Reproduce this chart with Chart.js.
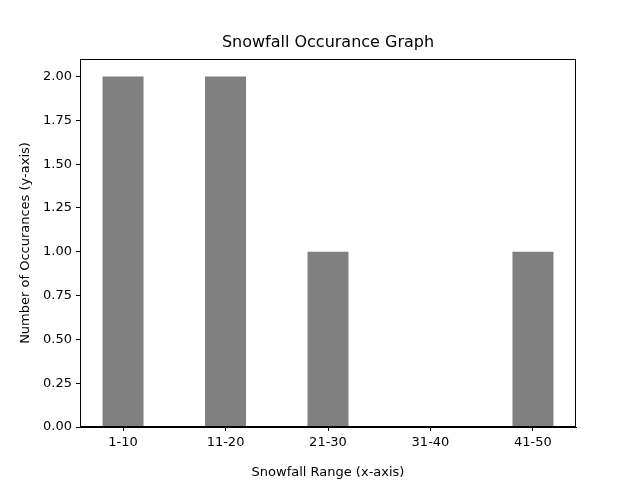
<!DOCTYPE html>
<html lang="en">
<head>
<meta charset="UTF-8">
<title>Snowfall Occurance Graph</title>
<script src="https://cdn.jsdelivr.net/npm/chart.js"></script>
<style>
  body { margin: 0; background: #fff; }
  #wrap { width: 640px; height: 480px; }
</style>
</head>
<body>
<div id="wrap"><canvas id="snowChart" width="640" height="480"></canvas></div>
<script>
// data
const ranges = ['1-10', '11-20', '21-30', '31-40', '41-50'];
const occurrences = [2, 2, 1, 0, 1];
const chartTitle = 'Snowfall Occurance Graph';

// box round the plot and a title centred over it
const frame = {
  id: 'frame',
  afterDraw(chart) {
    const a = chart.chartArea, c = chart.ctx;
    c.save();
    c.strokeStyle = '#000';
    c.lineWidth = 1;
    c.strokeRect(a.left + 0.5, a.top + 0.5, a.right - a.left - 1, a.bottom - a.top - 1);
    c.fillStyle = '#000';
    c.font = '16px "DejaVu Sans"';
    c.textAlign = 'center';
    c.textBaseline = 'middle';
    c.fillText(chartTitle, (a.left + a.right) / 2, 43);
    c.restore();
  }
};

const font = { family: 'DejaVu Sans', size: 13 };

new Chart(document.getElementById('snowChart'), {
  type: 'bar',
  data: {
    datasets: [{
      data: occurrences.map((v, i) => ({ x: i, y: v })),
      backgroundColor: '#808080',
      borderWidth: 0,
      barPercentage: 0.4,
      categoryPercentage: 1.0
    }]
  },
  options: {
    responsive: false,
    animation: false,
    layout: { padding: { left: 0, right: 64, top: 59, bottom: 0 } },
    plugins: {
      legend: { display: false },
      tooltip: { enabled: false },
      title: { display: false }
    },
    scales: {
      x: {
        type: 'linear',
        offset: false,
        min: -0.42,
        max: 4.42,
        afterBuildTicks: s => { s.ticks = [0, 1, 2, 3, 4].map(v => ({ value: v })); },
        afterFit: s => { s.height = 53; },
        ticks: { color: '#000', font: font, callback: v => ranges[v], padding: 4, maxRotation: 0 },
        grid: { offset: false, drawOnChartArea: false, tickLength: 4, color: '#000' },
        border: { color: '#000' },
        title: { display: true, text: 'Snowfall Range (x-axis)', color: '#000', font: font, padding: 0 }
      },
      y: {
        min: 0,
        max: 2.1,
        afterBuildTicks: s => {
          const t = [];
          for (let v = 0; v <= 2.0001; v += 0.25) t.push({ value: v });
          s.ticks = t;
        },
        afterFit: s => { s.width = 80; },
        ticks: { color: '#000', font: font, callback: v => Number(v).toFixed(2), padding: 4 },
        grid: { drawOnChartArea: false, tickLength: 4, color: '#000' },
        border: { color: '#000' },
        title: { display: true, text: 'Number of Occurances (y-axis)', color: '#000', font: font, padding: { top: 18, bottom: 4 } }
      }
    }
  },
  plugins: [frame]
});
</script>
</body>
</html>
